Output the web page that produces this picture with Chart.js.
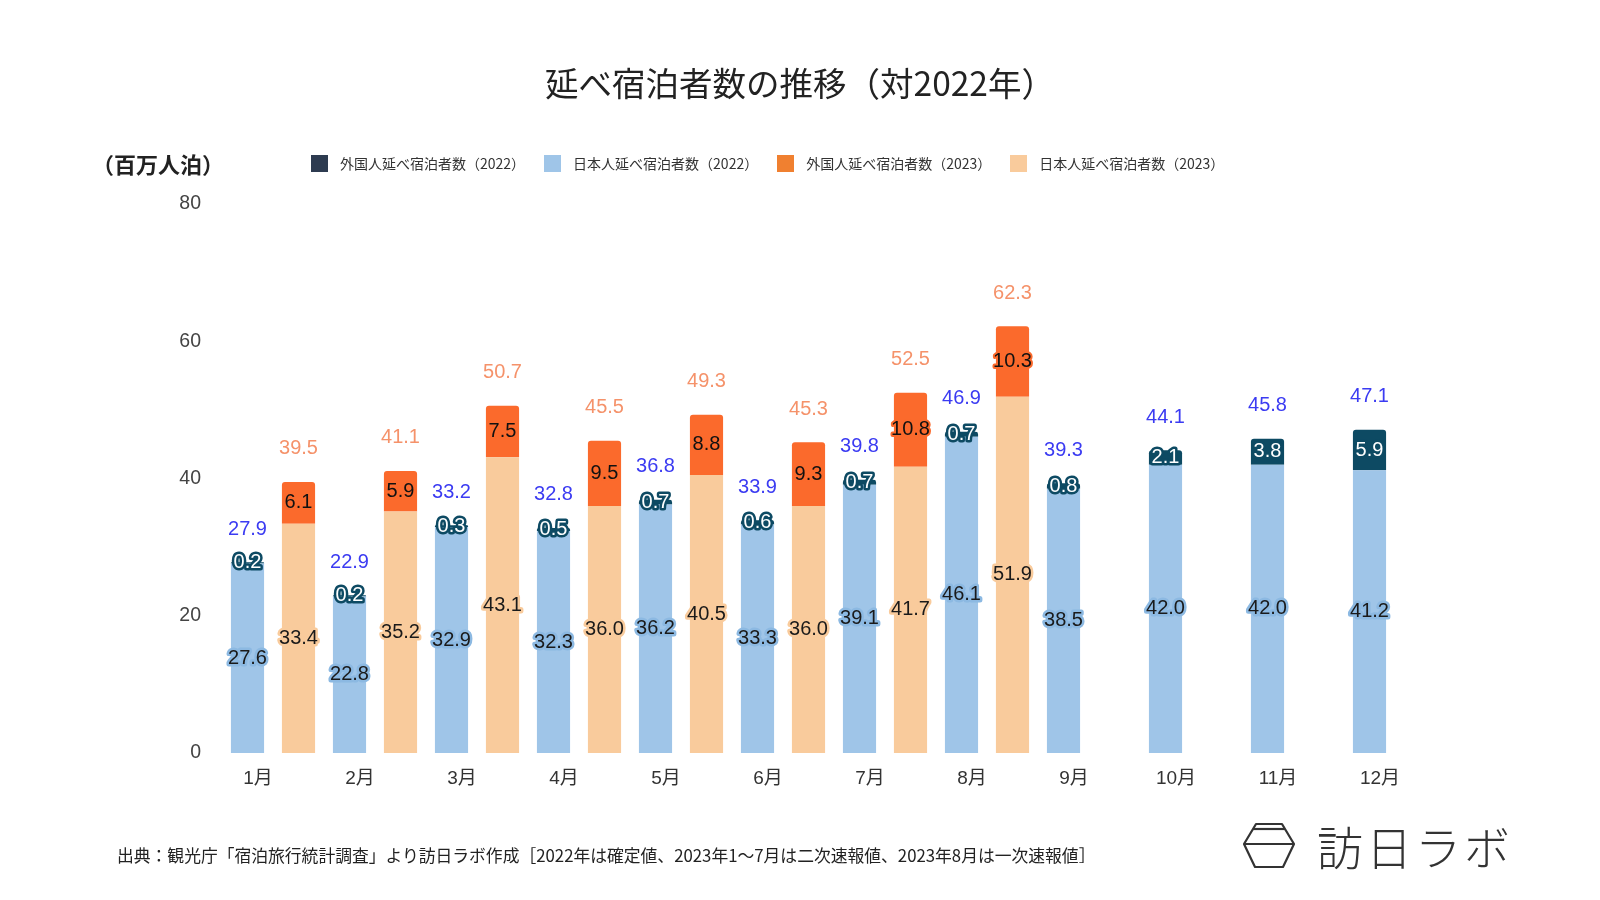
<!DOCTYPE html>
<html lang="ja">
<head>
  <meta charset="UTF-8">
  <title>延べ宿泊者数の推移（対2022年）</title>
  <script src="https://cdn.jsdelivr.net/npm/chart.js@4.4.1/dist/chart.umd.min.js"></script>
  <style>
    body {
      margin: 0;
      background: #fff;
      font-family: "Noto Sans CJK JP", "Noto Sans", sans-serif;
      color: #222;
    }
    #wrap {
      position: relative;
      width: 1600px;
      height: 900px;
      overflow: hidden;
    }
    #wrap canvas {
      position: absolute;
      left: 0;
      top: 0;
    }
    .abs {
      position: absolute;
      white-space: nowrap;
    }
    #title {
      left: 0;
      width: 1600px;
      top: 60px;
      line-height: 44px;
      text-align: center;
      font-size: 33.5px;
    }
    #unit {
      left: 92px;
      top: 149px;
      line-height: 28px;
      font-size: 22px;
      font-weight: bold;
    }
    #legend {
      left: 311px;
      top: 152px;
      display: flex;
      align-items: center;
      font-size: 14px;
      line-height: 22px;
      color: #333;
    }
    #legend .item {
      display: flex;
      align-items: center;
      margin-right: 19px;
    }
    #legend .box {
      width: 17px;
      height: 17px;
      margin-right: 12px;
    }
    #source {
      left: 117px;
      top: 843px;
      font-size: 16.8px;
      line-height: 24px;
      color: #222;
    }
    #logo {
      left: 1243px;
      top: 818px;
      display: flex;
      align-items: center;
    }
    #logo span {
      font-size: 46px;
      font-weight: 300;
      letter-spacing: 3px;
      color: #333;
      margin-left: 22px;
      line-height: 54px;
    }
  </style>
</head>
<body>
<div id="wrap">
  <canvas id="chart" width="1600" height="900"></canvas>

  <div id="title" class="abs">延べ宿泊者数の推移（対2022年）</div>
  <div id="unit" class="abs">（百万人泊）</div>
  <div id="legend" class="abs"></div>
  <div id="source" class="abs">出典：観光庁「宿泊旅行統計調査」より訪日ラボ作成［2022年は確定値、2023年1～7月は二次速報値、2023年8月は一次速報値］</div>
  <div id="logo" class="abs">
    <svg width="52" height="46" viewBox="-1 -1 52 46">
      <g fill="none" stroke="#333" stroke-width="2.2" stroke-linejoin="round">
        <polygon points="12,1 38,1 50,21 39,44 11,44 0,21"/>
        <line x1="9" y1="6" x2="41" y2="6"/>
        <line x1="0" y1="21" x2="50" y2="21"/>
      </g>
    </svg>
    <span>訪日ラボ</span>
  </div>
</div>

<script>
  // 単位：百万人泊
  const months = ['1月', '2月', '3月', '4月', '5月', '6月', '7月', '8月', '9月', '10月', '11月', '12月'];

  const japanese2022 = [27.6, 22.8, 32.9, 32.3, 36.2, 33.3, 39.1, 46.1, 38.5, 42.0, 42.0, 41.2];
  const foreign2022  = [0.2, 0.2, 0.3, 0.5, 0.7, 0.6, 0.7, 0.7, 0.8, 2.1, 3.8, 5.9];
  const total2022    = [27.9, 22.9, 33.2, 32.8, 36.8, 33.9, 39.8, 46.9, 39.3, 44.1, 45.8, 47.1];

  const japanese2023 = [33.4, 35.2, 43.1, 36.0, 40.5, 36.0, 41.7, 51.9, null, null, null, null];
  const foreign2023  = [6.1, 5.9, 7.5, 9.5, 8.8, 9.3, 10.8, 10.3, null, null, null, null];
  const total2023    = [39.5, 41.1, 50.7, 45.5, 49.3, 45.3, 52.5, 62.3, null, null, null, null];

  const yMax = 80;
  const yStep = 20;

  const colors = {
    foreign2022: '#0d4a63',
    japanese2022: '#9fc5e8',
    foreign2023: '#fb6a2c',
    japanese2023: '#f9cb9c',
    total2022: '#3b3bf2',
    total2023: '#f5926a'
  };

  // legend (html)
  const legendItems = [
    ['外国人延べ宿泊者数（2022）', '#2d3b50'],
    ['日本人延べ宿泊者数（2022）', colors.japanese2022],
    ['外国人延べ宿泊者数（2023）', '#f08030'],
    ['日本人延べ宿泊者数（2023）', colors.japanese2023]
  ];
  const legendEl = document.getElementById('legend');
  legendItems.forEach(([text, color]) => {
    const item = document.createElement('div');
    item.className = 'item';
    item.innerHTML = '<div class="box" style="background:' + color + '"></div><div>' + text + '</div>';
    legendEl.appendChild(item);
  });

  // value labels drawn on the bars
  const barLabels = {
    id: 'barLabels',
    afterDatasetsDraw(chart) {
      const ctx = chart.ctx;
      ctx.save();
      ctx.font = '20px "Liberation Sans", Arial, sans-serif';
      ctx.textAlign = 'center';
      ctx.textBaseline = 'middle';
      ctx.lineJoin = 'round';

      chart.data.datasets.forEach((ds, i) => {
        const meta = chart.getDatasetMeta(i);
        meta.data.forEach((bar, j) => {
          const v = ds.data[j];
          if (v == null) return;
          const txt = v.toFixed(1);
          const y = (bar.y + bar.base) / 2;
          ctx.lineWidth = ds.haloWidth;
          ctx.strokeStyle = ds.halo;
          ctx.strokeText(txt, bar.x, y);
          ctx.fillStyle = ds.labelColor;
          ctx.fillText(txt, bar.x, y);
        });
      });

      // totals above each stack
      const tops = [[1, total2022, colors.total2022], [3, total2023, colors.total2023]];
      tops.forEach(([idx, totals, color]) => {
        const meta = chart.getDatasetMeta(idx);
        ctx.fillStyle = color;
        meta.data.forEach((bar, j) => {
          if (totals[j] == null) return;
          ctx.fillText(totals[j].toFixed(1), bar.x, bar.y - 33);
        });
      });
      ctx.restore();
    }
  };

  const ctx = document.getElementById('chart').getContext('2d');
  const chart = new Chart(ctx, {
    type: 'bar',
    data: {
      labels: months,
      datasets: [
        {
          label: '日本人延べ宿泊者数（2022）',
          data: japanese2022,
          stack: '2022',
          backgroundColor: colors.japanese2022,
          halo: '#8cb9e2', haloWidth: 5, labelColor: '#1a1a1a'
        },
        {
          label: '外国人延べ宿泊者数（2022）',
          data: foreign2022,
          stack: '2022',
          backgroundColor: colors.foreign2022,
          borderRadius: 3,
          halo: colors.foreign2022, haloWidth: 5, labelColor: '#ffffff'
        },
        {
          label: '日本人延べ宿泊者数（2023）',
          data: japanese2023,
          stack: '2023',
          backgroundColor: colors.japanese2023,
          halo: colors.japanese2023, haloWidth: 5, labelColor: '#1a1a1a'
        },
        {
          label: '外国人延べ宿泊者数（2023）',
          data: foreign2023,
          stack: '2023',
          backgroundColor: colors.foreign2023,
          borderRadius: 3,
          halo: colors.foreign2023, haloWidth: 4, labelColor: '#111111'
        }
      ]
    },
    options: {
      responsive: false,
      animation: false,
      categoryPercentage: 1.0,
      barPercentage: 0.65,
      layout: {
        padding: { left: 150, right: 154, top: 204, bottom: 97 }
      },
      plugins: {
        legend: { display: false },
        title: { display: false },
        tooltip: { enabled: false }
      },
      scales: {
        x: {
          stacked: true,
          grid: { display: false },
          border: { display: false },
          ticks: {
            color: '#333',
            font: { size: 19, family: '"Liberation Sans", "Noto Sans CJK JP", sans-serif' },
            padding: 6,
            labelOffset: -15,
            autoSkip: false,
            maxRotation: 0
          },
          afterFit: s => { s.height = 50; }
        },
        y: {
          stacked: true,
          min: 0,
          max: yMax,
          grid: { display: false },
          border: { display: false },
          ticks: {
            stepSize: yStep,
            color: '#444',
            font: { size: 19.5, family: '"Liberation Sans", Arial, sans-serif' },
            padding: 13
          },
          afterFit: s => { s.width = 72; }
        }
      }
    },
    plugins: [barLabels]
  });
</script>
</body>
</html>
